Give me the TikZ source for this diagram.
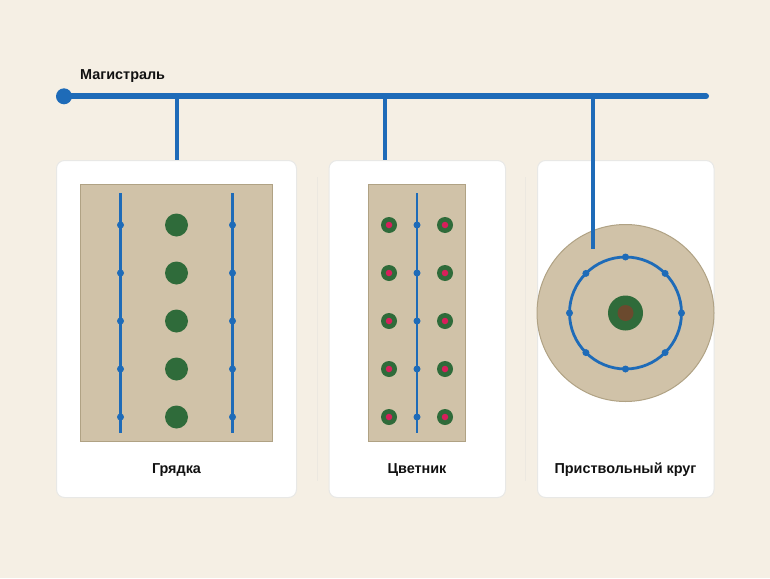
\documentclass[tikz,border=0pt]{standalone}
\usepackage{fontspec}
\usetikzlibrary{calc}
\setmainfont{Liberation Sans}
\definecolor{bgc}{HTML}{F5EFE4}
\definecolor{cardedge}{HTML}{E8E8E6}
\definecolor{divc}{HTML}{ECE8E0}
\definecolor{soil}{HTML}{D0C2A8}
\definecolor{soiledge}{HTML}{B0A284}
\definecolor{pipe}{HTML}{1E6BB8}
\definecolor{leaf}{HTML}{2F6B3A}
\definecolor{bloom}{HTML}{D81E5B}
\definecolor{trunk}{HTML}{6B4A2E}
\definecolor{ink}{HTML}{111111}
\tikzset{
  x=1pt,y=-1pt,
  card/.style={fill=white,draw=cardedge,line width=1pt,rounded corners=8pt},
  divider/.style={draw=divc,line width=1pt},
  bed/.style={fill=soil,draw=soiledge,line width=1pt},
  main/.style={draw=pipe,line width=6pt,line cap=round},
  branch/.style={draw=pipe,line width=4pt},
  drip/.style={draw=pipe,line width=2.8pt},
  emit/.style={circle,fill=pipe,inner sep=0pt,minimum size=7pt},
  head/.style={circle,fill=pipe,inner sep=0pt,minimum size=16pt},
  shrub/.style={circle,fill=leaf,inner sep=0pt,minimum size=23pt},
  flower/.style={circle,fill=leaf,inner sep=0pt,minimum size=16pt},
  bloomdot/.style={circle,fill=bloom,inner sep=0pt,minimum size=6.5pt},
  label/.style={font=\fontsize{14.4}{17}\selectfont\bfseries,text=ink,inner sep=0pt,anchor=base},
}
\begin{document}
\begin{tikzpicture}
\useasboundingbox (0,0) rectangle (770,578);
\fill[bgc] (0,0) rectangle (770,578);
% main line
\coordinate (mstart) at (64,96.3);
\coordinate (mend) at (706,96.3);
\coordinate (j1) at (176.5,96.3);
\coordinate (j2) at (384.5,96.3);
\coordinate (j3) at (593.4,96.3);
\coordinate (t1) at (176.5,160);
\coordinate (t2) at (384.5,160);
\coordinate (t3) at (593.4,160.5);
\coordinate (t3b) at (593.4,249);
\node[label,anchor=base west] (title) at (80,79) {Магистраль};
% cards
\draw[card] (56.5,160.5) rectangle (296.5,497.5);
\draw[card] (329,160.5) rectangle (505.5,497.5);
\draw[card] (537.5,160.5) rectangle (714,497.5);
\draw[divider] (317,177) -- (317,481);
\draw[divider] (525,177) -- (525,481);
% branches and main
\draw[branch] (j1) -- (t1);
\draw[branch] (j2) -- (t2);
\draw[branch] (j3) -- (t3);
\draw[main] (mstart) -- (mend);
\node[head] (h) at (mstart) {};
% bed 1
\draw[bed] (80.5,184.5) rectangle (272.5,441);
\coordinate (a1) at (120.5,193); \coordinate (a2) at (120.5,433);
\coordinate (b1) at (232.5,193); \coordinate (b2) at (232.5,433);
\draw[drip] (a1) -- (a2);
\draw[drip] (b1) -- (b2);
\foreach \y [count=\i] in {225,273,321,369,417}{
  \node[emit] (ea\i) at (120.5,\y) {};
  \node[emit] (eb\i) at (232.5,\y) {};
  \node[shrub] (s\i) at (176.5,\y) {};
}
% bed 2
\draw[bed] (368.5,184.5) rectangle (465,441);
\coordinate (c1) at (417,193); \coordinate (c2) at (417,433);
\draw[drip] (c1) -- (c2);
\foreach \y [count=\i] in {225,273,321,369,417}{
  \node[emit] (ec\i) at (417,\y) {};
  \node[flower] (fl\i) at (389,\y) {};
  \node[bloomdot] (bl\i) at (389,\y) {};
  \node[flower] (fr\i) at (445,\y) {};
  \node[bloomdot] (br\i) at (445,\y) {};
}
% tree circle
\node[circle,fill=soil,draw=soiledge,line width=1pt,inner sep=0pt,minimum size=177pt] (soilc) at (625.5,313) {};
\draw[draw=pipe,line width=2.8pt] (soilc.center) circle[radius=56];
\foreach \a in {0,45,...,315}{
  \node[emit] at ($(625.5,313)+(\a:56)$) {};
}
\node[circle,fill=leaf,inner sep=0pt,minimum size=35pt] (crown) at (625.5,313) {};
\node[circle,fill=trunk,inner sep=0pt,minimum size=16pt] (tr) at (625.5,313) {};
\draw[branch] (t3) -- (t3b);
% labels
\node[label] (l1) at (176.5,473.5) {Грядка};
\node[label] (l2) at (417,473.5) {Цветник};
\node[label] (l3) at (625.5,473.5) {Приствольный круг};
\end{tikzpicture}
\end{document}
